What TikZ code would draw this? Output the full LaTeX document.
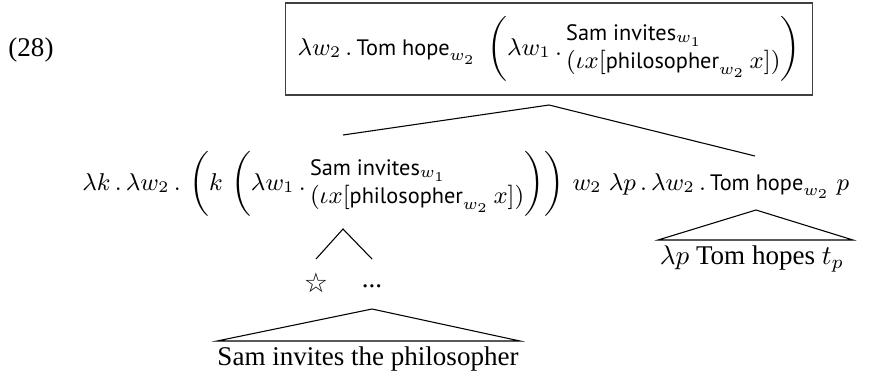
\documentclass[tikz,border=0pt]{standalone}
\usepackage{fontspec}
\setmainfont{Liberation Serif}
\setsansfont{PT Sans}[Scale=0.96]
\newfontfamily\symfont{DejaVu Sans}

% the stacked argument of the lambda
\newcommand{\invstack}{\begin{array}{@{}l@{}}\textsf{Sam invites}_{w_1}\\(\iota x[\textsf{philosopher}_{w_2}\,x])\end{array}}

\begin{document}
\begin{tikzpicture}[x=0.37pt,y=-0.37pt,
    every node/.style={inner sep=0pt, outer sep=0pt},
    semnode/.style={font=\fontsize{8.6}{10.5}\selectfont},
    rootbox/.style={semnode, draw=black!75, line width=0.5pt, inner xsep=4.5pt, inner ysep=5pt}]

        \useasboundingbox (0,0) rectangle (886,383);

        % Example number
        \node (num) at (31,50) {(28)};

        % Root
        \node[rootbox] (root) at (549,49) {$\lambda w_2\,.\,\textsf{Tom hope}_{w_2}\;\left(\lambda w_1\,.\,\invstack\right)$};

        % Daughters
        \node[semnode, anchor=base] (lk) at (342,190) {$\lambda k\,.\,\lambda w_2\,.\,\left(k\,\left(\lambda w_1\,.\,\invstack\right)\right)\,w_2$};
        \node[semnode, anchor=base] (lp) at (729,190) {$\lambda p\,.\,\lambda w_2\,.\,\textsf{Tom hope}_{w_2}\;p$};

        \coordinate (fork) at (549,105);
        \coordinate (ltop) at (343,135);
        \coordinate (rtop) at (755,156);
        \draw (ltop) -- (fork) -- (rtop);

        % Right subtree
        \coordinate (rapex) at (756,210);
        \draw (rapex) -- ++(-98,30) -- ++(195,0) -- cycle;
        \node (rleaf) at (752,259) {$\lambda p$ Tom hopes $t_p$};

        % Left subtree
        \coordinate (lfork) at (343,229);
        \coordinate (sl) at (316,259);
        \coordinate (sr) at (372,259);
        \draw (sl) -- (lfork) -- (sr);
        \node (star) at (316,283) {\symfont ☆};
        \node (dots) at (372,286) {...};

        \coordinate (lapex) at (372,309);
        \draw (lapex) -- ++(-155,32) -- ++(303,0) -- cycle;
        \node (lleaf) at (368,359) {Sam invites the philosopher};

    \end{tikzpicture}
\end{document}
